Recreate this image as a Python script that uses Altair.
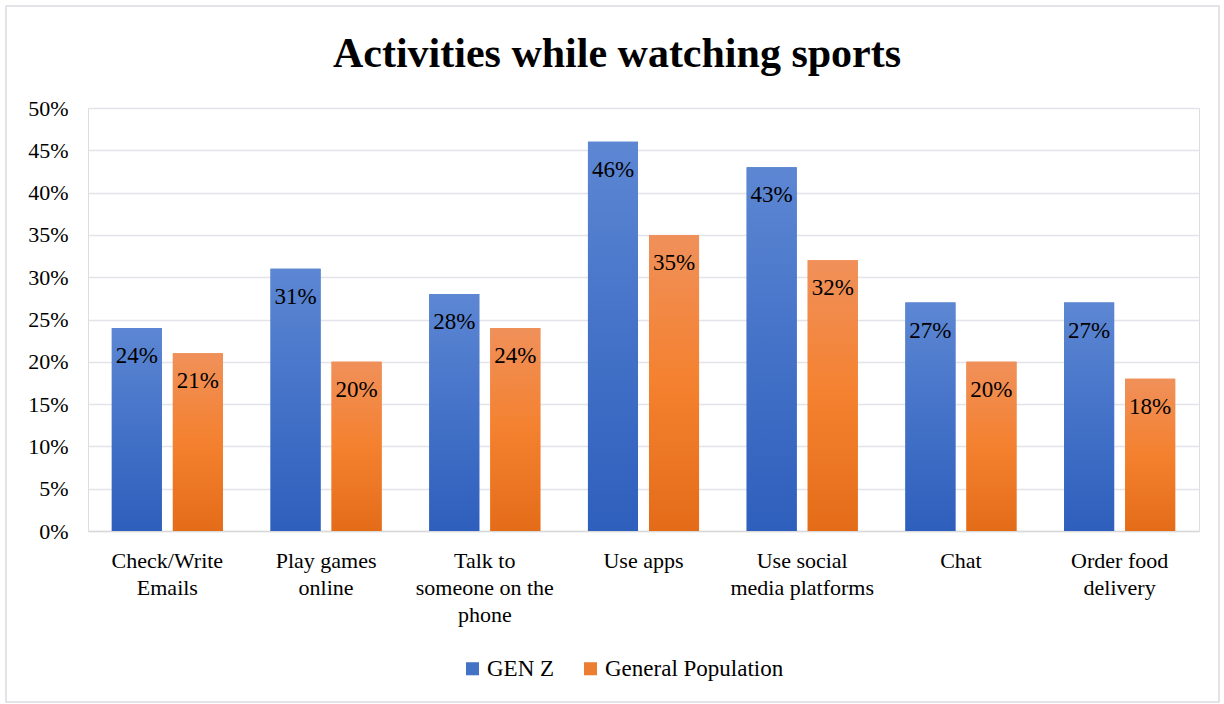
import altair as alt
import pandas as pd

title_text = "Activities while watching sports"
categories = ["Check/Write Emails", "Play games online", "Talk to someone on the phone",
              "Use apps", "Use social media platforms", "Chat", "Order food delivery"]
label_lines = [["Check/Write", "Emails"], ["Play games", "online"], ["Talk to", "someone on the", "phone"],
               ["Use apps"], ["Use social", "media platforms"], ["Chat"], ["Order food", "delivery"]]
series = ["GEN Z", "General Population"]
gen_z = [24, 31, 28, 46, 43, 27, 27]
gen_pop = [21, 20, 24, 35, 32, 20, 18]
solid_colors = ["#4472C4", "#ED7D31"]
y_ticks = [0, 0.05, 0.10, 0.15, 0.20, 0.25, 0.30, 0.35, 0.40, 0.45, 0.50]

rows = []
for c, a, b in zip(categories, gen_z, gen_pop):
    rows.append({"Activity": c, "Group": series[0], "Value": a / 100, "Label": f"{a}%"})
    rows.append({"Activity": c, "Group": series[1], "Value": b / 100, "Label": f"{b}%"})
df = pd.DataFrame(rows)

# multi-line label expression
expr = "datum.label"
for c, lines in reversed(list(zip(categories, label_lines))):
    arr = "[" + ",".join("'" + l + "'" for l in lines) + "]"
    expr = f"datum.label == '{c}' ? {arr} : ({expr})"

FONT = "Liberation Serif"

x = alt.X("Activity:N", sort=categories,
          scale=alt.Scale(paddingInner=0.30, paddingOuter=0.15),
          axis=alt.Axis(title=None, labelExpr=expr, labelAngle=0, ticks=False,
                        labelFontSize=22, labelLineHeight=27, labelPadding=19,
                        labelFont=FONT, labelColor="#000000",
                        domain=True, domainColor="#D9D9D9", domainWidth=1.5, grid=False))
y = alt.Y("Value:Q", scale=alt.Scale(domain=[0, 0.5]),
          axis=alt.Axis(title=None, format=".0%", values=y_ticks, ticks=False, domain=False,
                        labelFontSize=22, labelFont=FONT, labelColor="#000000", labelPadding=20,
                        gridColor="#E1E4E9", gridWidth=1.3))
xoff = alt.XOffset("Group:N", sort=series, scale=alt.Scale(paddingInner=0.18))

base = alt.Chart(df)

solid = base.mark_bar().encode(
    x=x, y=y, xOffset=xoff,
    color=alt.Color("Group:N", sort=series,
                    scale=alt.Scale(domain=series, range=solid_colors),
                    legend=alt.Legend(title=None, orient="none", direction="horizontal",
                                      legendX=373, legendY=549, symbolType="square",
                                      symbolSize=170, symbolStrokeWidth=0,
                                      labelFontSize=23, labelFont=FONT, labelColor="#000000",
                                      labelLimit=400, columnPadding=24, labelOffset=3))
)

blue_grad = {"gradient": "linear", "x1": 0, "y1": 0, "x2": 0, "y2": 1,
             "stops": [{"offset": 0, "color": "#5D87D3"},
                       {"offset": 0.5, "color": "#4472C8"},
                       {"offset": 1, "color": "#2E5FBC"}]}
orange_grad = {"gradient": "linear", "x1": 0, "y1": 0, "x2": 0, "y2": 1,
               "stops": [{"offset": 0, "color": "#F0905A"},
                         {"offset": 0.5, "color": "#F4812F"},
                         {"offset": 1, "color": "#E46C19"}]}

g1 = base.transform_filter(alt.datum.Group == series[0]).mark_bar(fill=blue_grad).encode(
    x=x, y=y, xOffset=xoff)
g2 = base.transform_filter(alt.datum.Group == series[1]).mark_bar(fill=orange_grad).encode(
    x=x, y=y, xOffset=xoff)

labels = base.mark_text(baseline="middle", dy=28, font=FONT, fontSize=23, color="#000000").encode(
    x=x, y=y, xOffset=xoff, text="Label:N")

border = alt.Chart(pd.DataFrame({"a": [0]})).mark_rect(filled=False, stroke="#DADCDF", strokeWidth=1.5).encode(
    x=alt.value(-82), x2=alt.value(1131), y=alt.value(-102), y2=alt.value(594))

title = alt.Chart(pd.DataFrame({"t": [title_text]})).mark_text(
    font=FONT, fontSize=42, fontWeight="bold", color="#000000", align="center", baseline="alphabetic"
).encode(text="t:N", x=alt.value(529), y=alt.value(-41))

chart = alt.layer(border, title, solid, g1, g2, labels).properties(
    width=1111, height=423,
    autosize=alt.AutoSizeParams(type="none"),
    padding={"left": 88, "top": 108, "right": 25, "bottom": 173},
).configure_view(stroke=None).configure(background="white")

chart.save("out.html", embed_options={"renderer": "svg", "actions": False})
